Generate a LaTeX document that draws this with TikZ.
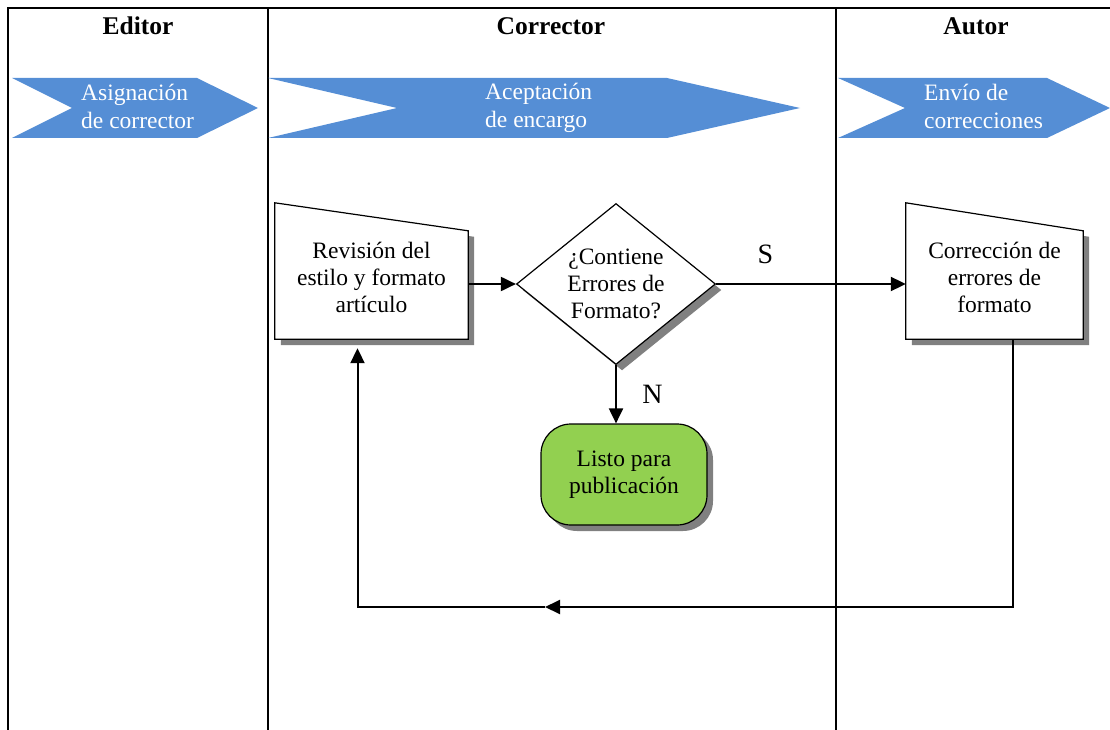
\documentclass[tikz,border=0pt]{standalone}
\usepackage{fontspec}
\setmainfont{Liberation Serif}
\usetikzlibrary{arrows.meta,shapes.geometric,shadows,backgrounds}
\definecolor{faseazul}{HTML}{558ED5}
\definecolor{listoverde}{HTML}{92D050}
\tikzset{
  carril/.style={line width=2.4pt},
  titulo/.style={font=\fontsize{25.5}{30}\selectfont\bfseries},
  fase/.style={fill=faseazul},
  fasetexto/.style={text=white, anchor=west, align=left, inner sep=0pt,
    font=\fontsize{23.5}{28}\selectfont},
  sombra/.style={drop shadow={shadow xshift=6pt, shadow yshift=-6pt,
    fill=black!50, opacity=1}},
  proceso/.style={align=center, inner sep=0pt, minimum height=124pt},
  manual/.style={draw, line width=1.2pt, fill=white, sombra},
  decision/.style={diamond, aspect=1.24, draw, line width=1.2pt, fill=white,
    align=center, inner sep=0pt, minimum width=199pt, minimum height=161pt, sombra},
  terminal/.style={rectangle, rounded corners=30pt, draw, line width=1.2pt,
    fill=listoverde, align=center, minimum width=166pt, minimum height=101pt, sombra},
  flecha/.style={line width=2pt, -{Triangle[length=15pt,width=14pt]}},
  rama/.style={font=\fontsize{28}{32}\selectfont},
}
\begin{document}
\begin{tikzpicture}[x=1pt, y=-1pt, font=\fontsize{23.5}{27}\selectfont]
  \useasboundingbox (0,0) rectangle (1110,730);
  % carriles
  \draw[carril] (8,730) -- (8,8) -- (1110,8);
  \draw[carril] (268,8) -- (268,730);
  \draw[carril, line width=2pt] (836,8) -- (836,730);
  \node[titulo] (tEditor) at (138,26) {Editor};
  \node[titulo] (tCorrector) at (551,26) {Corrector};
  \node[titulo] (tAutor) at (976,26) {Autor};
  % fases
  \fill[fase] (12,78) -- (197,78) -- (258,108) -- (197,138) -- (12,138) -- (72,108) -- cycle;
  \fill[fase] (268,78) -- (667,78) -- (800,108) -- (667,138) -- (268,138) -- (397,108) -- cycle;
  \fill[fase] (838,78) -- (1047,78) -- (1110,108) -- (1047,138) -- (838,138) -- (905,108) -- cycle;
  \node[fasetexto] (fAsignacion) at (81,106) {Asignación\\de corrector};
  \node[fasetexto] (fAceptacion) at (485,108) {Aceptación\\de encargo};
  \node[fasetexto] (fEnvio) at (924,106) {Envío de\\correcciones};
  % actividades
  \node[proceso, minimum width=193pt] (rev) at (371.5,277) {Revisión del\\estilo y formato\\artículo};
  \node[decision] (dec) at (616,284) {¿Contiene\\Errores de\\Formato?};
  \node[proceso, minimum width=177pt] (corr) at (994.5,277) {Corrección de\\errores de\\formato};
  \node[terminal] (listo) at (624,474.5) {Listo para\\publicación};
  \begin{scope}[on background layer]
    \draw[manual] (rev.south west) -- ([yshift=12pt]rev.north west)
      -- ([yshift=-16pt]rev.north east) -- (rev.south east) -- cycle;
    \draw[manual] (corr.south west) -- ([yshift=12pt]corr.north west)
      -- ([yshift=-16pt]corr.north east) -- (corr.south east) -- cycle;
  \end{scope}
  % flujo
  \draw[flecha] (rev.east |- dec.west) -- (dec.west);
  \draw[flecha] (dec.east) -- (corr.west |- dec.east)
    node[rama, pos=0.26, above=16pt] (lblS) {S};
  \draw[flecha] (dec.south) -- (dec.south |- listo.north)
    node[rama, midway, right=22pt] (lblN) {N};
  \coordinate (vuelta) at (545,607);
  \draw[flecha] ([xshift=18pt]corr.south) |- (vuelta);
  \draw[flecha] (vuelta) -| ([xshift=-14pt,yshift=-9pt]rev.south);
\end{tikzpicture}
\end{document}
